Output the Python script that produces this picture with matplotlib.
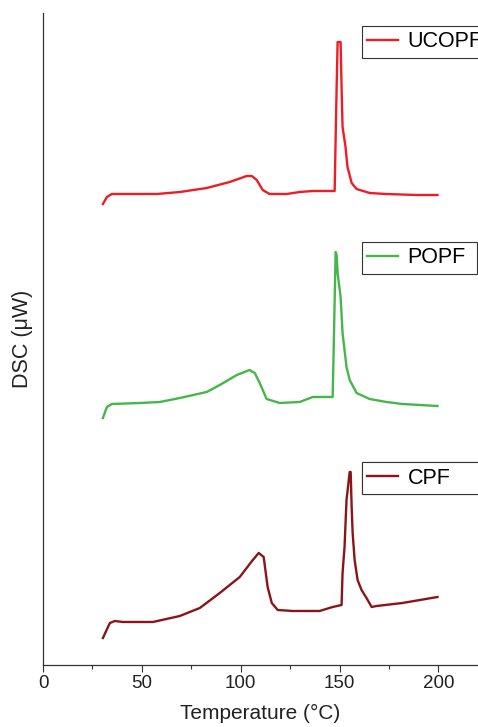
#!/usr/bin/env python3
"""Stacked DSC traces for UCOPF, POPF and CPF films."""

import matplotlib
matplotlib.use("Agg")
import matplotlib.pyplot as plt
from matplotlib.ticker import MultipleLocator


# temperature (deg C) and DSC signal (arbitrary offset units)
ucopf_t = [30.3, 32.3, 34.8, 57.6, 69.2, 82.8, 94.4, 103.0, 105.6, 108.1, 111.1,
           114.6, 123.2, 129.8, 136.4, 147.5, 148.0, 148.5, 149.0, 150.5, 151.0,
           151.5, 153.0, 154.0, 156.1, 158.6, 165.2, 173.7, 188.9, 199.5]
ucopf_y = [46.1, 46.8, 47.1, 47.1, 47.3, 47.7, 48.3, 48.9, 48.9, 48.5, 47.5,
           47.1, 47.1, 47.3, 47.4, 47.4, 52.7, 57.8, 62.3, 62.3, 57.8,
           53.8, 51.8, 49.8, 48.2, 47.6, 47.2, 47.1, 47.0, 47.0]

popf_t = [30.3, 32.3, 34.8, 49.0, 59.1, 69.2, 82.8, 89.4, 98.0, 104.5, 107.1,
          109.6, 113.1, 119.7, 129.8, 136.4, 146.5, 147.0, 147.5, 148.0, 148.5,
          149.0, 150.5, 151.5, 153.5, 155.1, 158.6, 165.2, 173.7, 181.8, 199.5]
popf_y = [24.7, 25.8, 26.1, 26.2, 26.3, 26.7, 27.3, 28.0, 29.0, 29.5, 29.2,
          28.2, 26.6, 26.2, 26.3, 26.8, 26.8, 31.5, 36.5, 41.3, 41.0,
          39.2, 36.8, 33.2, 29.8, 28.5, 27.2, 26.6, 26.3, 26.1, 25.9]

cpf_t = [30.3, 33.8, 36.4, 40.4, 55.6, 69.2, 79.3, 89.4, 99.5, 106.1, 109.1,
         111.6, 113.6, 115.7, 118.7, 126.3, 139.9, 146.5, 151.0, 151.5, 152.5,
         153.5, 155.1, 155.6, 156.1, 156.6, 157.6, 159.1, 161.1, 163.6, 166.2,
         168.7, 181.8, 199.5]
cpf_y = [2.7, 4.2, 4.4, 4.3, 4.3, 4.9, 5.7, 7.2, 8.8, 10.5, 11.2,
         10.8, 7.8, 6.2, 5.5, 5.4, 5.4, 5.8, 6.0, 9.2, 11.8,
         16.5, 19.3, 19.3, 15.8, 13.2, 10.5, 8.5, 7.5, 6.7, 5.8,
         5.9, 6.2, 6.8]

labels = ["UCOPF", "POPF", "CPF"]
colors = ["#ee1d25", "#45b649", "#8a1519"]
legend_tops = [0.980, 0.649, 0.311]
legend_widths = [0.29, 0.264, 0.29]


def main() -> None:
    plt.rcParams["font.family"] = ["Liberation Sans", "DejaVu Sans"]

    fig = plt.figure(figsize=(4.78, 7.27), dpi=100)
    ax = fig.add_axes([0.09, 0.0853, 0.91, 0.8968])

    series = [(ucopf_t, ucopf_y), (popf_t, popf_y), (cpf_t, cpf_y)]
    for (t, y), label, color, top, w in zip(series, labels, colors,
                                            legend_tops, legend_widths):
        (line,) = ax.plot(t, y, color=color, linewidth=1.7, label=label)
        leg = ax.legend(
            handles=[line], loc="upper left",
            bbox_to_anchor=(0.733, top - 0.05, w, 0.05), mode="expand",
            borderaxespad=0, fontsize=15.5, fancybox=False, framealpha=1,
            edgecolor="#333333", handlelength=1.45, handletextpad=0.42,
            borderpad=0.25,
        )
        leg.get_frame().set_linewidth(0.8)
        ax.add_artist(leg)

    ax.set_xlim(0, 220)
    ax.set_ylim(0, 65.2)
    ax.xaxis.set_major_locator(MultipleLocator(50))
    ax.xaxis.set_minor_locator(MultipleLocator(25))
    ax.tick_params(axis="x", which="major", direction="out", length=5,
                   width=0.8, labelsize=13.5, pad=2, colors="#333333",
                   labelcolor="#222222")
    ax.tick_params(axis="x", which="minor", direction="out", length=3,
                   width=0.8, colors="#333333")
    ax.set_yticks([])
    for side in ("top", "right"):
        ax.spines[side].set_visible(False)
    for side in ("left", "bottom"):
        ax.spines[side].set_color("#333333")
        ax.spines[side].set_linewidth(0.9)

    ax.set_xlabel("Temperature (°C)", fontsize=15, labelpad=9, color="#222222")
    ax.set_ylabel("DSC (μW)", fontsize=15.5, color="#222222")
    ax.yaxis.set_label_coords(-0.024, 0.5)

    fig.savefig("out.png", dpi=100)
    plt.close(fig)


if __name__ == "__main__":
    main()
